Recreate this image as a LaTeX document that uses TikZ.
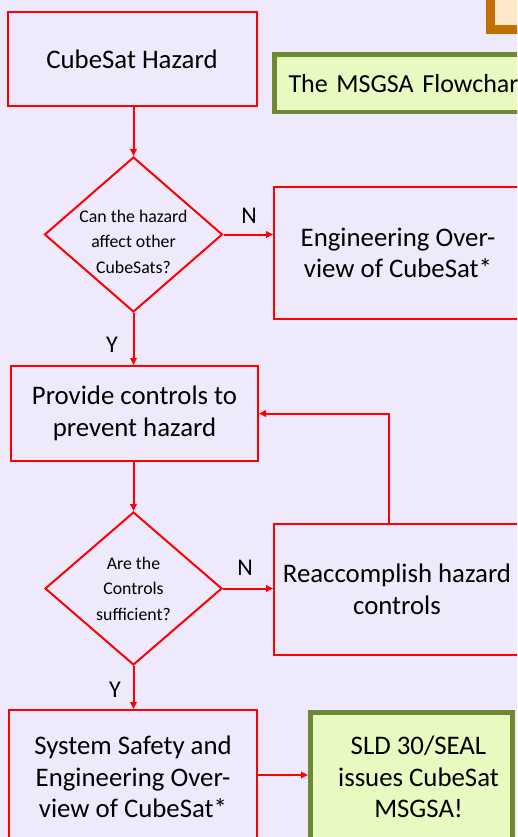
\documentclass[tikz,border=0pt]{standalone}
\usepackage{fontspec}
\setmainfont{Carlito}
\usetikzlibrary{shapes.geometric,arrows.meta}
\definecolor{bgc}{RGB}{239,233,252}
\definecolor{redc}{RGB}{255,0,0}
\definecolor{olivec}{RGB}{110,136,54}
\definecolor{limec}{RGB}{232,250,192}
\definecolor{orngc}{RGB}{192,112,0}
\definecolor{peachc}{RGB}{255,232,200}
\begin{document}
\begin{tikzpicture}[x=1pt,y=-1pt,
  redbox/.style={draw=redc,line width=2pt,fill=bgc,inner sep=0pt,align=center,
    font=\fontsize{26.8}{31.5}\selectfont},
  greenbox/.style={draw=olivec,fill=limec,inner sep=0pt,align=center,
    font=\fontsize{26.8}{31.5}\selectfont},
  decision/.style={diamond,draw=redc,line width=2pt,fill=bgc,inner sep=0pt},
  qtext/.style={font=\fontsize{17.8}{25.5}\selectfont,align=center},
  sldtext/.style={font=\fontsize{26.8}{31.5}\selectfont,align=center},
  conn/.style={draw=redc,line width=2pt,-{Triangle[length=7pt,width=6.5pt]}},
  yn/.style={font=\fontsize{24}{24}\selectfont,inner sep=0pt}]
\useasboundingbox (0,0) rectangle (517,837);
\clip (0,0) rectangle (517,837);
\fill[bgc] (0,0) rectangle (517,837);

% partial boxes at the top edge
\node[draw=olivec,fill=limec,line width=3pt,minimum width=480pt,minimum height=60pt,anchor=south east,inner sep=0pt] (topbar) at (461,0) {};
\node[draw=orngc,fill=peachc,line width=9pt,minimum width=120pt,minimum height=90pt,anchor=south west,inner sep=0pt] (orangebox) at (485.5,34.5) {};

% boxes
\node[redbox,minimum width=249pt,minimum height=94pt] (hazard) at (132,59) {CubeSat Hazard};
\node[greenbox,line width=4.5pt,minimum width=300pt,minimum height=57.5pt,anchor=north west,
  text width=276pt,align=left,inner xsep=14pt,font=\fontsize{26}{31.5}\selectfont] (msgsa) at (272.25,52.25) {The MSGSA Flowchar};

\node[decision,minimum width=178pt,minimum height=155pt,
  label={[qtext,yshift=-7pt]center:Can the hazard\\affect other\\CubeSats?}] (d1) at (133.5,234.5) {};
\node[redbox,minimum width=248pt,minimum height=132pt] (eng) at (398,253) {Engineering Over-\\view of CubeSat*};

\node[redbox,minimum width=247pt,minimum height=95pt] (provide) at (134.5,413.5) {Provide controls to\\prevent hazard};

\node[decision,minimum width=177pt,minimum height=153pt,
  label={[qtext]center:Are the\\Controls\\sufficient?}] (d2) at (133.5,588.5) {};
\node[redbox,minimum width=246pt,minimum height=131pt] (reac) at (397,589.5) {Reaccomplish hazard\\controls};

\node[redbox,minimum width=248pt,minimum height=134pt] (sys) at (133,777) {System Safety and\\Engineering Over-\\view of CubeSat*};
\node[greenbox,line width=5pt,minimum width=202pt,minimum height=131pt,
  label={[sldtext,xshift=7pt,yshift=1pt]center:SLD 30/SEAL\\issues CubeSat\\MSGSA!}] (sld) at (411.5,778) {};

% connectors
\coordinate (loopx) at (389,0);
\draw[conn] (d1.north |- hazard.south) -- (d1.north);
\draw[conn] (d1.east) -- (d1.east -| eng.west);
\draw[conn] (d1.south) -- (d1.south |- provide.north);
\draw[conn] (d2.north |- provide.south) -- (d2.north);
\draw[conn] (d2.east) -- (d2.east -| reac.west);
\draw[conn] (d2.south) -- (d2.south |- sys.north);
\draw[conn] (loopx |- reac.north) |- (provide.east);
\draw[conn] ([yshift=2pt]sys.east) -- ([yshift=2pt]sys.east -| sld.west);

% labels
\node[yn] (n1) at (249,216) {N};
\node[yn] (y1) at (112,345) {Y};
\node[yn] (n2) at (245,568) {N};
\node[yn] (y2) at (115,690) {Y};
\end{tikzpicture}
\end{document}
